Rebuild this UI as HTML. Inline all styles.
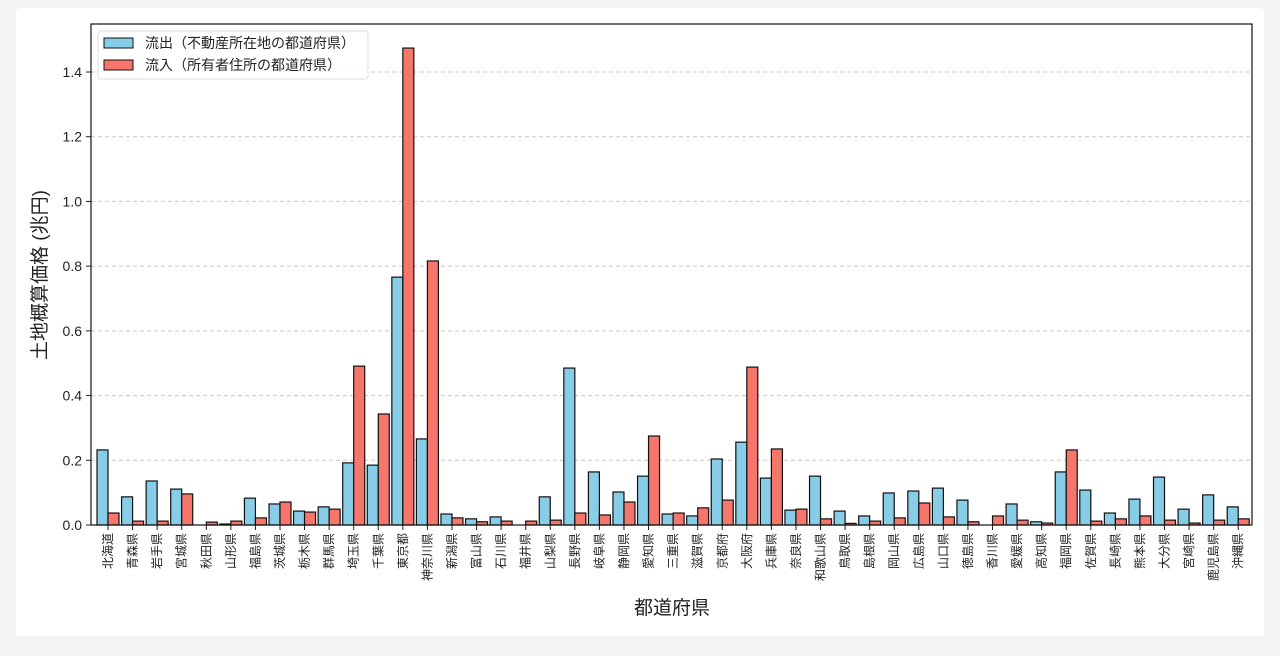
<!DOCTYPE html>
<html><head><meta charset="utf-8"><style>
html,body{margin:0;padding:0;background:#f3f3f3;}
#card{position:absolute;left:16px;top:8px;width:1248px;height:628px;background:#fff;border-radius:4px;}
svg{position:absolute;left:0;top:0;}
text{font-family:"Liberation Sans","Noto Sans CJK JP",sans-serif;fill:#222;}
</style></head><body>
<div id="card"></div>
<svg id="chart" width="1280" height="656"></svg>
<script>
const categories=["北海道","青森県","岩手県","宮城県","秋田県","山形県","福島県","茨城県","栃木県","群馬県","埼玉県","千葉県","東京都","神奈川県","新潟県","富山県","石川県","福井県","山梨県","長野県","岐阜県","静岡県","愛知県","三重県","滋賀県","京都府","大阪府","兵庫県","奈良県","和歌山県","鳥取県","島根県","岡山県","広島県","山口県","徳島県","香川県","愛媛県","高知県","福岡県","佐賀県","長崎県","熊本県","大分県","宮崎県","鹿児島県","沖縄県"];
const outflow=[0.232,0.087,0.136,0.111,0,0.003,0.083,0.065,0.043,0.056,0.192,0.185,0.766,0.266,0.034,0.019,0.025,0,0.087,0.485,0.164,0.102,0.151,0.034,0.028,0.204,0.256,0.145,0.046,0.151,0.043,0.028,0.099,0.105,0.114,0.077,0,0.065,0.01,0.164,0.108,0.037,0.080,0.148,0.049,0.093,0.056];
const inflow=[0.037,0.012,0.012,0.096,0.009,0.012,0.022,0.071,0.040,0.049,0.491,0.343,1.474,0.816,0.022,0.01,0.012,0.012,0.015,0.037,0.031,0.071,0.275,0.037,0.053,0.077,0.488,0.235,0.049,0.019,0.005,0.012,0.022,0.068,0.025,0.01,0.028,0.015,0.006,0.232,0.012,0.019,0.028,0.015,0.006,0.015,0.019];
const yTicks=[0,0.2,0.4,0.6,0.8,1.0,1.2,1.4];
const yTickLabels=["0.0","0.2","0.4","0.6","0.8","1.0","1.2","1.4"];

const svg=document.getElementById('chart');
const NS='http://www.w3.org/2000/svg';
const L=91,R=1252,T=24,B=525;
const y=v=>B-v*(B-72)/1.4;
const step=24.57;
const x=i=>108+i*step;
const bw=11;
function mk(tag,attrs,parent){const e=document.createElementNS(NS,tag);for(const k in attrs)e.setAttribute(k,attrs[k]);(parent||svg).appendChild(e);return e;}

yTicks.forEach((t,i)=>{
  const g=mk('line',{x1:L,x2:R,y1:y(t),y2:y(t),stroke:'#c8c8c8','stroke-dasharray':'4,3','stroke-width':1});
  
  
  const tk=mk('line',{x1:L-5,x2:L,y1:y(t),y2:y(t),stroke:'#222'});
  
  
  const tx=mk('text',{x:L-9,y:y(t)+5,'text-anchor':'end','font-size':14});
  tx.textContent=yTickLabels[i];
  
  
});

categories.forEach((c,i)=>{
  const b1=mk('rect',{x:x(i)-bw,y:y(outflow[i]),width:bw,height:B-y(outflow[i]),fill:'#87cde8',stroke:'#111','stroke-width':1.2});
  
  
  const b2=mk('rect',{x:x(i),y:y(inflow[i]),width:bw,height:B-y(inflow[i]),fill:'#f7766c',stroke:'#111','stroke-width':1.2});
  
  
  const tk=mk('line',{x1:x(i),x2:x(i),y1:B,y2:B+5,stroke:'#222'});
  
  
  const tx=mk('text',{x:0,y:0,'text-anchor':'end','font-size':12,transform:`translate(${x(i)+4},${B+8}) rotate(-90)`});
  tx.textContent=c;
  
  
});

const fr=mk('rect',{x:L,y:T,width:R-L,height:B-T,fill:'none',stroke:'#111','stroke-width':1.2});



const yt=mk('text',{x:0,y:0,'text-anchor':'middle','font-size':19,transform:'translate(46,275) rotate(-90)'});
yt.textContent='土地概算価格 (兆円)';


const xt=mk('text',{x:672,y:614,'text-anchor':'middle','font-size':19});
xt.textContent='都道府県';



const lg=mk('g',{});


mk('rect',{x:98,y:31,width:270,height:48,fill:'#fff','fill-opacity':0.9,stroke:'#ddd',rx:3},lg);
const entries=[['#87cde8','流出（不動産所在地の都道府県）'],['#f7766c','流入（所有者住所の都道府県）']];
entries.forEach((e,i)=>{
  const g=mk('g',{},lg);
  
  
  mk('rect',{x:104,y:38+i*22,width:29,height:10,fill:e[0],stroke:'#111','stroke-width':1},g);
  const t=mk('text',{x:145,y:48+i*22,'font-size':14},g);
  t.textContent=e[1];
});
</script>
</body></html>
